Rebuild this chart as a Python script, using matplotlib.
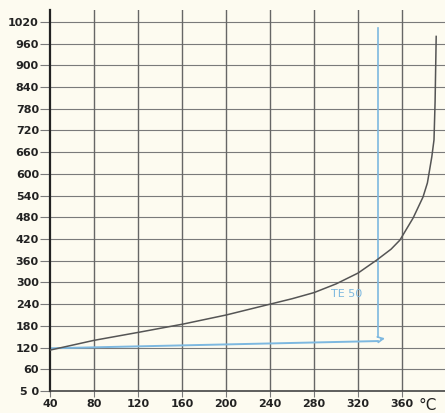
import matplotlib
matplotlib.use("Agg")
import matplotlib.pyplot as plt

# Axis ticks
y_ticks = [0, 60, 120, 180, 240, 300, 360, 420, 480, 540, 600, 660, 720, 780, 840, 900, 960, 1020]
y_labels = ["5 0", "60", "120", "180", "240", "300", "360", "420", "480", "540", "600", "660",
            "720", "780", "840", "900", "960", "1020"]
x_ticks = [40, 80, 120, 160, 200, 240, 280, 320, 360]
x_labels = ["40", "80", "120", "160", "200", "240", "280", "320", "360"]

# Distillation curve: temperature (°C) vs value
curve_t = [40, 80, 122, 161, 200, 240, 260, 280, 300, 320, 337, 350, 358, 370, 379, 383, 387, 389, 390, 391]
curve_v = [113, 140, 163, 185, 210, 240, 255, 272, 296, 326, 362, 392, 417, 478, 536, 575, 647, 694, 800, 980]

# TE 50 construction lines
te50_t = 338
te50_top = 1004
te50_bottom = 150
base_line_t = [40, 338]
base_line_v = [118, 138]
arrow_start = (338, 142)
arrow_end = (347, 147)

bg = "#fdfbf0"
grid_c = "#7a7a7a"
blue = "#7db8e0"

fig = plt.figure(figsize=(4.45, 4.13), dpi=100, facecolor=bg)
ax = fig.add_axes([50 / 445, 22 / 413, 395 / 445, 381 / 413])
ax.set_facecolor(bg)
ax.set_xlim(40, 399)
ax.set_ylim(0, 1053)

for s in ["top", "right"]:
    ax.spines[s].set_visible(False)
ax.spines["left"].set_linewidth(1.6)
ax.spines["left"].set_color("#222222")
ax.spines["bottom"].set_linewidth(1.2)
ax.spines["bottom"].set_color("#444444")

ax.set_yticks(y_ticks)
ax.set_yticklabels(y_labels)
ax.set_xticks(x_ticks)
ax.set_xticklabels(x_labels)
ax.tick_params(axis="y", length=7, width=0.8, color=grid_c, pad=1,
               labelsize=8, labelcolor="#222222")
ax.tick_params(axis="x", length=4, width=0.8, color=grid_c, pad=2,
               labelsize=8, labelcolor="#222222")
for lab in ax.get_xticklabels() + ax.get_yticklabels():
    lab.set_fontweight("semibold")

# Grid
for v in y_ticks[1:]:
    ax.axhline(v, color=grid_c, lw=0.8, zorder=1)
for t in x_ticks[1:]:
    ax.axvline(t, color="#666666", lw=1.0, zorder=1)

# Curve
ax.plot(curve_t, curve_v, color="#555555", lw=1.1, zorder=3)

# TE 50 construction
ax.plot(base_line_t, base_line_v, color=blue, lw=1.4, zorder=2)
ax.plot([te50_t, te50_t], [te50_top, te50_bottom], color=blue, lw=1.2, zorder=2)
ax.annotate("", xy=arrow_end, xytext=arrow_start,
            arrowprops=dict(arrowstyle="->", color=blue, lw=1.2), zorder=2)
ax.text(310, 268, "TE 50", color=blue, fontsize=8, ha="center", va="center", zorder=4)

# Unit label
fig.text(428 / 445, 1 - 405 / 413, "°C", fontsize=11, color="#222222", ha="center", va="center")

fig.savefig("out.png", dpi=100, facecolor=bg)
